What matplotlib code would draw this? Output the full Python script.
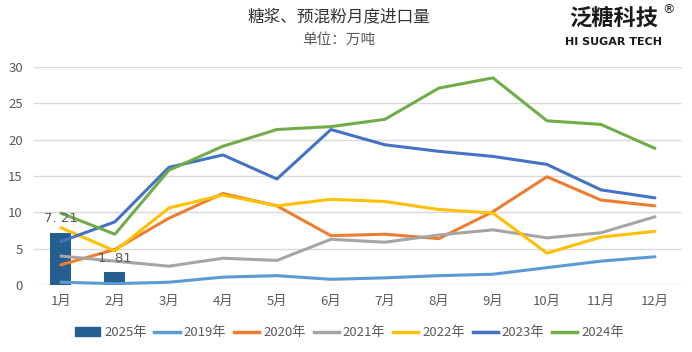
import matplotlib
matplotlib.use("Agg")
import matplotlib.pyplot as plt
from matplotlib.patches import Patch
from matplotlib.lines import Line2D

plt.rcParams['font.family'] = ['Noto Sans CJK SC', 'DejaVu Sans']

months = ["1月", "2月", "3月", "4月", "5月", "6月", "7月", "8月", "9月", "10月", "11月", "12月"]
y2025 = [7.21, 1.81]
y2019 = [0.4, 0.2, 0.4, 1.1, 1.3, 0.8, 1.0, 1.3, 1.5, 2.4, 3.3, 3.9]
y2020 = [2.8, 4.9, 9.2, 12.6, 10.9, 6.8, 7.0, 6.4, 10.1, 14.9, 11.7, 10.9]
y2021 = [4.0, 3.3, 2.6, 3.7, 3.4, 6.3, 5.9, 6.9, 7.6, 6.5, 7.2, 9.4]
y2022 = [7.9, 4.7, 10.6, 12.4, 10.9, 11.8, 11.5, 10.4, 9.9, 4.4, 6.6, 7.4]
y2023 = [6.0, 8.7, 16.2, 17.9, 14.6, 21.4, 19.3, 18.4, 17.7, 16.6, 13.1, 12.0]
y2024 = [9.9, 7.0, 15.8, 19.1, 21.4, 21.8, 22.8, 27.1, 28.5, 22.6, 22.1, 18.8]

series = [("2019年", y2019, "#5B9BD5"), ("2020年", y2020, "#ED7D31"),
          ("2021年", y2021, "#A5A5A5"), ("2022年", y2022, "#FFC000"),
          ("2023年", y2023, "#4472C4"), ("2024年", y2024, "#70AD47")]
bar_color = "#255E91"
tick_color = "#595959"

fig = plt.figure(figsize=(6.92, 3.52), dpi=100)
ax = fig.add_axes([0.049, 0.190, 0.9365, 0.6197])

x = list(range(len(months)))
bars = ax.bar(x[:len(y2025)], y2025, width=0.39, color=bar_color, zorder=2)
for xi, v in zip(x, y2025):
    ax.text(xi, v + 1.0, f"{v:.2f}".replace(".", ". "), ha="center", va="bottom",
            fontsize=9.5, color=tick_color, zorder=4, family=['DejaVu Sans'])

for name, vals, c in series:
    ax.plot(x, vals, color=c, lw=2.2, zorder=3, solid_capstyle="round")

ax.set_xlim(-0.5, 11.5)
ax.set_ylim(0, 30)
ax.set_yticks(range(0, 31, 5))
ax.set_xticks(x)
ax.set_xticklabels(months)
ax.grid(axis="y", color="#D9D9D9", lw=1)
ax.set_axisbelow(True)
for s in ax.spines.values():
    s.set_visible(False)
ax.tick_params(axis="both", length=0, colors=tick_color, labelsize=9.5)
ax.tick_params(axis="x", pad=7)
ax.tick_params(axis="y", pad=8)

handles = [Patch(color=bar_color, label="2025年")] + \
          [Line2D([0], [0], color=c, lw=2.5, label=n) for n, _, c in series]
leg = fig.legend(handles=handles, loc="center", bbox_to_anchor=(0.505, 0.054), ncol=7,
                 frameon=False, fontsize=9.5, handlelength=1.9, handletextpad=0.3,
                 columnspacing=0.6)
for t in leg.get_texts():
    t.set_color(tick_color)

fig.text(0.49, 0.952, "糖浆、预混粉月度进口量", ha="center", va="center", fontsize=12,
         color="#333333")
fig.text(0.49, 0.886, "单位：万吨", ha="center", va="center", fontsize=10.5, color="#595959")
fig.text(0.887, 0.950, "泛糖科技", ha="center", va="center", fontsize=16, weight="bold",
         color="#1a1a1a")
fig.text(0.966, 0.972, "®", ha="center", va="center", fontsize=9, color="#1a1a1a",
         family=['DejaVu Sans'])
fig.text(0.887, 0.880, "HI SUGAR TECH", ha="center", va="center", fontsize=8,
         weight="bold", color="#1a1a1a", family=['DejaVu Sans'])

fig.savefig("out.png", dpi=100)
